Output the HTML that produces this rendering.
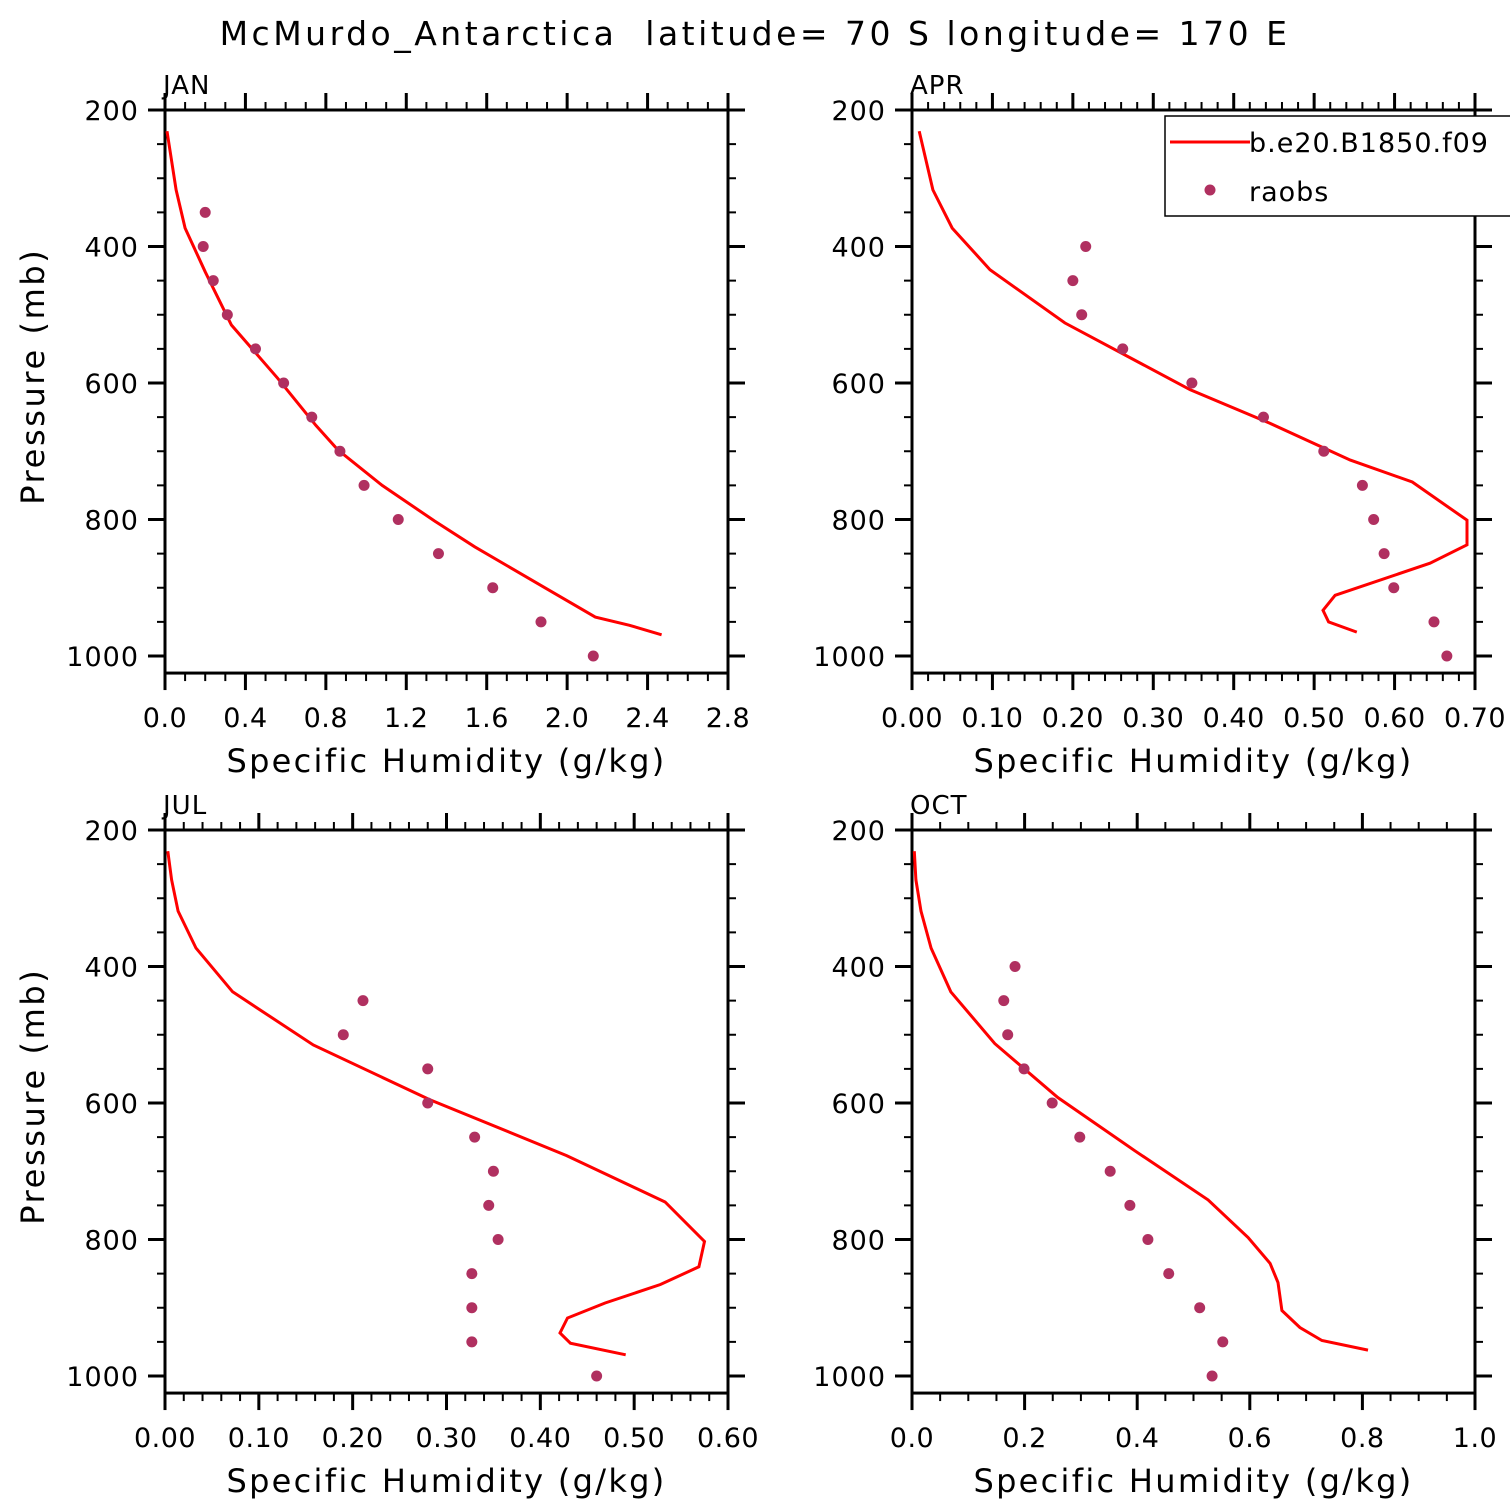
<!DOCTYPE html>
<html><head><meta charset="utf-8"><style>
html,body{margin:0;padding:0;background:#fff}
svg{display:block;font-family:"DejaVu Sans","Liberation Sans",sans-serif}
</style></head><body>
<svg id="chart" width="1510" height="1510" viewBox="0 0 1510 1510">
<text x="755" y="45" text-anchor="middle" font-size="33" letter-spacing="3.5" style="white-space:pre">McMurdo_Antarctica  latitude= 70 S longitude= 170 E</text>
</svg>
<script>
// Panel categories
const months = ["JAN","APR","JUL","OCT"];
const xMaxes = [2.8, 0.70, 0.60, 1.0];
const xMajorSteps = [0.4, 0.1, 0.1, 0.2];
const xMinorSteps = [0.1, 0.02, 0.02, 0.05];
const xTickDecimals = [1, 2, 2, 1];
const yTickLabels = [200, 400, 600, 800, 1000];
// Model series (pressure mb, q g/kg)
const modelP = [
 [231,317,373,437,515,593,662,698,750,802,840,900,943,955,969],
 [231,317,373,434,512,610,659,713,745,801,837,864,911,933,950,965],
 [231,273,319,373,437,515,595,677,745,803,840,866,893,915,937,952,969],
 [231,273,319,373,437,513,592,670,742,797,835,863,904,929,948,962]
];
const modelQ = [
 [0.01,0.055,0.10,0.20,0.33,0.56,0.75,0.86,1.08,1.34,1.54,1.89,2.14,2.31,2.47],
 [0.009,0.026,0.05,0.097,0.19,0.346,0.445,0.545,0.622,0.69,0.69,0.644,0.526,0.511,0.518,0.553],
 [0.003,0.007,0.014,0.033,0.072,0.158,0.282,0.428,0.533,0.575,0.569,0.528,0.469,0.429,0.421,0.432,0.491],
 [0.004,0.007,0.016,0.034,0.069,0.147,0.259,0.396,0.526,0.597,0.636,0.65,0.657,0.689,0.728,0.81]
];
// Raob series
const obsP = [
 [350,400,450,500,550,600,650,700,750,800,850,900,950,1000],
 [400,450,500,550,600,650,700,750,800,850,900,950,1000],
 [450,500,550,600,650,700,750,800,850,900,950,1000],
 [400,450,500,550,600,650,700,750,800,850,900,950,1000]
];
const obsQ = [
 [0.20,0.19,0.24,0.31,0.45,0.59,0.73,0.87,0.99,1.16,1.36,1.63,1.87,2.13],
 [0.216,0.20,0.211,0.262,0.348,0.437,0.512,0.56,0.574,0.587,0.599,0.649,0.665],
 [0.211,0.19,0.28,0.28,0.33,0.35,0.345,0.355,0.327,0.327,0.327,0.46],
 [0.183,0.163,0.17,0.199,0.249,0.298,0.352,0.387,0.419,0.456,0.511,0.552,0.533]
];

const NS="http://www.w3.org/2000/svg";
const svg=document.getElementById('chart');
function mk(tag,attrs,parent){const e=document.createElementNS(NS,tag);for(const k in attrs)e.setAttribute(k,attrs[k]);(parent||svg).appendChild(e);return e;}
const origins=[[165,110],[912,110],[165,830],[912,830]];
const W=563, pxPer200=136.5;
months.forEach((m,i)=>{
  const [x0,y0]=origins[i];
  const g=mk('g',{});
  
  
  const xs=q=>x0+q/xMaxes[i]*W;
  const ys=p=>y0+(p-200)/200*pxPer200;
  const yb=ys(1025);
  for(let p=200;p<=1025;p+=50){
    const maj=p%200===0, L=maj?17:8;
    mk('line',{x1:x0-L,x2:x0,y1:ys(p),y2:ys(p),stroke:'#000','stroke-width':maj?3:2},g);
    mk('line',{x1:x0+W,x2:x0+W+L,y1:ys(p),y2:ys(p),stroke:'#000','stroke-width':maj?3:2},g);
  }
  yTickLabels.forEach(p=>{
    const t=mk('text',{x:x0-26,y:ys(p)+10,'text-anchor':'end','font-size':27,'letter-spacing':1},g);
    t.textContent=p;
    
    
  });
  const nMin=Math.round(xMaxes[i]/xMinorSteps[i]);
  const ratio=Math.round(xMajorSteps[i]/xMinorSteps[i]);
  for(let k=0;k<=nMin;k++){
    const q=k*xMinorSteps[i], maj=k%ratio===0, L=maj?17:8, x=xs(q);
    mk('line',{x1:x,x2:x,y1:yb,y2:yb+L,stroke:'#000','stroke-width':maj?3:2},g);
    mk('line',{x1:x,x2:x,y1:y0-L,y2:y0,stroke:'#000','stroke-width':maj?3:2},g);
    if(maj){
      const t=mk('text',{x:x,y:yb+54,'text-anchor':'middle','font-size':27,'letter-spacing':0.5},g);
      t.textContent=q.toFixed(xTickDecimals[i]);
      
      
    }
  }
  const fr=mk('rect',{x:x0,y:y0,width:W,height:yb-y0,fill:'none',stroke:'#000','stroke-width':3},g);
  
  
  const mt=mk('text',{x:x0-2,y:y0-16,'font-size':26,'letter-spacing':1},g);
  mt.textContent=m;
  
  
  const xt=mk('text',{x:x0+W/2,y:yb+99,'text-anchor':'middle','font-size':32,'letter-spacing':'2.3'},g);
  xt.textContent='Specific Humidity (g/kg)';
  
  
  if(i%2===0){
    const yt=mk('text',{x:0,y:0,'text-anchor':'middle','font-size':32,'letter-spacing':'2.6',transform:`translate(44,${ys(590)}) rotate(-90)`},g);
    yt.textContent='Pressure (mb)';
    
    
  }
  const pts=modelP[i].map((p,k)=>xs(modelQ[i][k]).toFixed(1)+','+ys(p).toFixed(1)).join(' ');
  const pl=mk('polyline',{points:pts,fill:'none',stroke:'#ff0000','stroke-width':3,'stroke-linejoin':'miter'},g);
  
  
  obsP[i].forEach((p,k)=>{
    const c=mk('circle',{cx:xs(obsQ[i][k]),cy:ys(p),r:5.5,fill:'#b03060'},g);
    
    
  });
});
const lg=mk('g',{});


mk('rect',{x:1165,y:116,width:360,height:100,fill:'#fff',stroke:'#000','stroke-width':1.5},lg);
const l1=mk('line',{x1:1170,x2:1250,y1:142,y2:142,stroke:'#ff0000','stroke-width':3},lg);


const t1=mk('text',{x:1249,y:152,'font-size':27,'letter-spacing':1},lg);t1.textContent='b.e20.B1850.f09';


const c1=mk('circle',{cx:1210,cy:190,r:5.5,fill:'#b03060'},lg);


const t2=mk('text',{x:1249,y:201,'font-size':27,'letter-spacing':1},lg);t2.textContent='raobs';


</script>
</body></html>
